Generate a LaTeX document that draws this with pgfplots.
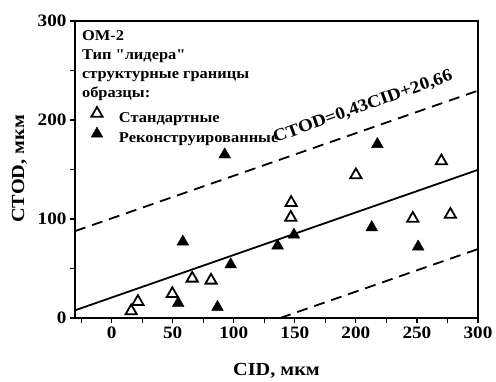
\documentclass[border=0pt]{standalone}
\usepackage{fontspec}
\setmainfont{Liberation Serif}[Ligatures=TeXOff, FakeStretch=1.1]
\usepackage{pgfplots}
\pgfplotsset{compat=1.18}
\pgfplotsset{mylegimg/.style={legend image code/.code={\path[draw=none,fill=none] (-7bp,-2bp) rectangle (20bp,11bp); \draw[##1] plot coordinates {(0bp,4.5bp)};}}}
\begin{document}
\begin{tikzpicture}
\begin{axis}[
 scale only axis, width=403bp, height=297bp,
 xmin=-30, xmax=300, ymin=0, ymax=300,
 xtick={0,50,...,300}, ytick={0,100,200,300},
 minor xtick={-25,25,75,...,275}, minor ytick={50,150,250},
 tick pos=left, tick align=outside,
 major tick length=5bp, minor tick length=5bp,
 every tick/.style={line width=1.2bp, black},
 axis line style={line width=1.3bp},
 tick label style={font=\bfseries\fontsize{17.5}{17.5}\selectfont},
 /pgf/number format/assume math mode=true,
 xlabel={CID, мкм}, ylabel={CTOD, мкм},
 label style={font=\bfseries\fontsize{18.5}{18.5}\selectfont},
 xlabel style={at={(axis description cs:0.5,-0.178)}, anchor=center},
 ylabel style={at={(axis description cs:-0.138,0.502)}, anchor=center},
 legend style={draw=none, fill=none, inner sep=0pt, outer sep=0pt,
   at={(axis description cs:0.0372,0.7104)}, anchor=north west,
   font=\bfseries\fontsize{15}{18}\selectfont, row sep=0bp, column sep=0bp,
   nodes={text height=11bp, text depth=3bp, inner xsep=2bp, inner ysep=2bp}},
 legend cell align=left,
]
\addplot[only marks, mark=triangle, mark size=6.5bp, mark options={line width=1.8bp, fill=white, solid}, mylegimg] coordinates {
(16,7) (21.5,16.5) (49.7,24.5) (66,40) (81.4,38) (147,116.5) (146.7,101.5) (200,144.5) (270,158.5) (246.6,100.5) (277.4,104.5)};
\addlegendentry{Стандартные}
\addplot[only marks, mark=triangle*, mark size=6.8bp, mark options={fill=black, solid}, mylegimg] coordinates {
(92.6,165) (58.3,77) (97.5,54) (54.5,15) (86.7,11) (135.9,73) (149.3,84) (217.6,175.5) (213,91.5) (251,72)};
\addlegendentry{Реконструированные}
\addplot[forget plot, line width=1.8bp, black] coordinates {(-30,7.76) (300,149.66)};
\addplot[forget plot, line width=1.8bp, black, dash pattern=on 11bp off 7bp] coordinates {(-30,87.76) (300,229.66)};
\addplot[forget plot, line width=1.8bp, black, dash pattern=on 11bp off 7bp] coordinates {(138,0) (300,69.66)};
\node[rotate=19.5, anchor=base west, font=\bfseries\fontsize{17.5}{17.5}\selectfont, inner sep=0] at (axis cs:134,177) {CTOD=0,43CID+20,66};
\node[anchor=north west, align=left, inner sep=0, font=\bfseries\fontsize{15}{19.3}\selectfont] at (rel axis cs:0.017,0.9697) {ОМ-2\\Тип "лидера"\\структурные границы\\образцы:};
\end{axis}
\path (current axis.south west) ++(-75bp,-63bp) rectangle ++(496bp,381bp);
\end{tikzpicture}
\end{document}
